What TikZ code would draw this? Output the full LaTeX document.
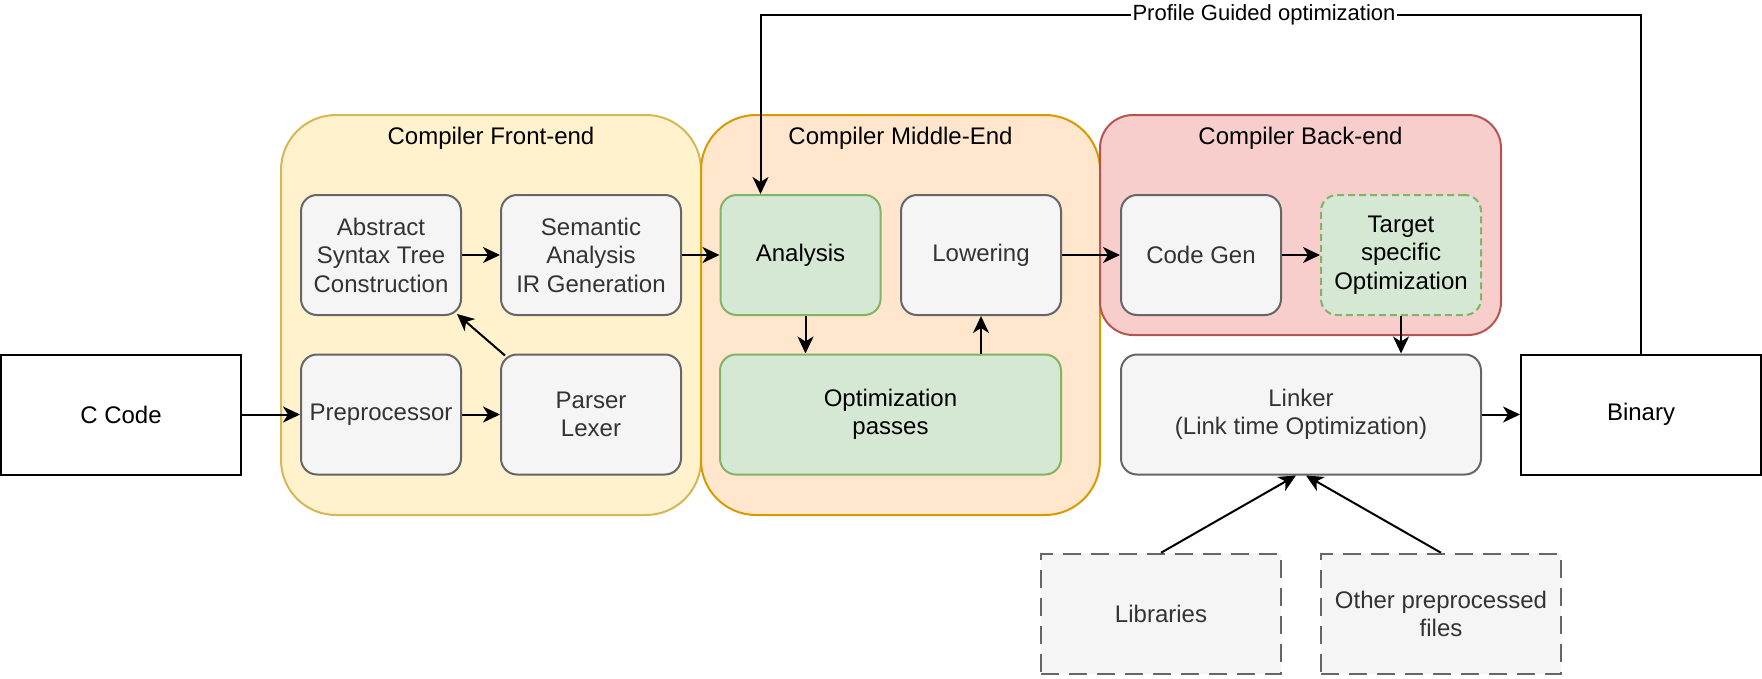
\documentclass[tikz,border=0pt]{standalone}
\usepackage{fontspec}
\setmainfont{Liberation Sans}
\usetikzlibrary{arrows.meta,calc}

\definecolor{greyFill}{HTML}{F5F5F5}
\definecolor{greyLine}{HTML}{666666}
\definecolor{greyText}{HTML}{333333}
\definecolor{greenFill}{HTML}{D5E8D4}
\definecolor{greenLine}{HTML}{82B366}
\definecolor{feFill}{HTML}{FFF2CC}
\definecolor{feLine}{HTML}{D6B656}
\definecolor{meFill}{HTML}{FFE6CC}
\definecolor{meLine}{HTML}{D79B00}
\definecolor{beFill}{HTML}{F8CECC}
\definecolor{beLine}{HTML}{B85450}

\begin{document}
\begin{tikzpicture}[x=1pt,y=-1pt]
\tikzstyle{every node}+=[font=\fontsize{24}{28.5}\selectfont, align=center, inner sep=0pt]
\tikzstyle{stagebox}=[rectangle, rounded corners=16pt, line width=2pt, minimum width=160pt, minimum height=120pt]
\tikzstyle{greybox}=[stagebox, draw=greyLine, fill=greyFill, text=greyText]
\tikzstyle{greenbox}=[stagebox, draw=greenLine, fill=greenFill]
\tikzstyle{filebox}=[rectangle, line width=2pt, draw=black, fill=white, minimum width=240pt, minimum height=120pt]
\tikzstyle{inputbox}=[rectangle, line width=2.5pt, draw=greyLine, fill=greyFill, text=greyText, dash pattern=on 18pt off 10pt, minimum width=240pt, minimum height=120pt]
\tikzstyle{group}=[rectangle, line width=2pt, minimum width=420pt, minimum height=400pt, rounded corners=55pt]
\tikzstyle{arr}=[line width=2pt, -{Stealth[length=17pt,width=16pt,inset=5pt]}]

\useasboundingbox (0,0) rectangle (1762,678);

% stage groups
\node[group, draw=feLine, fill=feFill] (fe) at (491,315) {};
\node[group, draw=meLine, fill=meFill, minimum width=399pt] (me) at (900.5,315) {};
\node[group, draw=beLine, fill=beFill, minimum width=401pt, minimum height=220pt, rounded corners=33pt] (be) at (1300.5,225) {};
\node at ([yshift=-24pt]fe.north) {Compiler Front-end};
\node at ([yshift=-24pt]me.north) {Compiler Middle-End};
\node at ([yshift=-24pt]be.north) {Compiler Back-end};

% boxes
\node[filebox] (ccode) at (121,414.5) {C Code};
\node[greybox] (pre) at (381,414.5) {Preprocessor};
\node[greybox, minimum width=180pt] (par) at (591,414.5) {Parser\\Lexer};
\node[greybox] (ast) at (381,255) {Abstract\\Syntax Tree\\Construction};
\node[greybox, minimum width=180pt] (sem) at (591,255) {Semantic\\Analysis\\IR Generation};
\node[greenbox] (ana) at (800.5,255) {Analysis};
\node[greybox] (low) at (981,255) {Lowering};
\node[greenbox, minimum width=341pt] (opt) at (890.5,414.5) {Optimization\\passes};
\node[greybox] (cg) at (1201,255) {Code Gen};
\node[greenbox, dash pattern=on 7pt off 4pt] (tgt) at (1401,255) {Target\\specific\\Optimization};
\node[greybox, minimum width=360pt] (lnk) at (1301,414.5) {Linker\\(Link time Optimization)};
\node[filebox] (bin) at (1641,414.5) {Binary};
\node[inputbox] (lib) at (1161,614) {Libraries};
\node[inputbox] (oth) at (1441,614) {Other preprocessed\\files};

% flow
\draw[arr] (ccode) -- (pre);
\draw[arr] (pre) -- (par);
\draw[arr] ($(par.north west)+(5,2)$) -- ($(ast.south east)+(-5,-2)$);
\draw[arr] (ast) -- (sem);
\draw[arr] (sem) -- (ana);
\draw[arr] ([xshift=5pt]ana.south) -- ([xshift=5pt]ana.south |- opt.north);
\draw[arr] (low.south |- opt.north) -- (low.south);
\draw[arr] (low) -- (cg);
\draw[arr] (cg) -- (tgt);
\draw[arr] (tgt.south) -- (tgt.south |- lnk.north);
\draw[arr] (lnk) -- (bin);
\draw[arr] (lib.north) -- ([xshift=-5pt]lnk.south);
\draw[arr] (oth.north) -- ([xshift=5pt]lnk.south);

% feedback
\node[font=\fontsize{22}{26}\selectfont, inner sep=1pt] (pgo) at (1264,15) {Profile Guided optimization};
\draw[line width=2pt] (bin.north) |- (pgo.east);
\draw[arr] (pgo.west) -| ([xshift=-40pt]ana.north);
\end{tikzpicture}
\end{document}
